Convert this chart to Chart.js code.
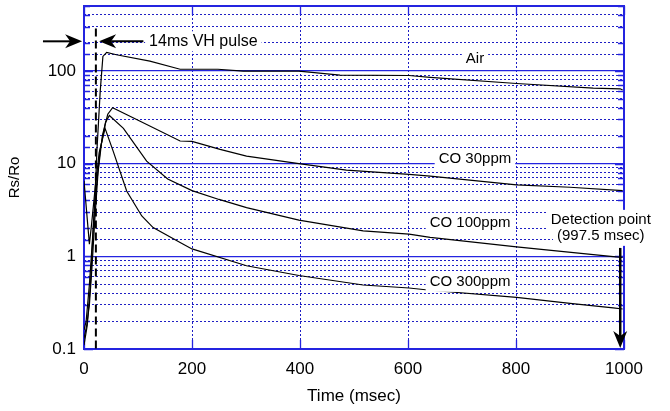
<!DOCTYPE html>
<html>
<head>
<meta charset="utf-8">
<script src="https://cdn.jsdelivr.net/npm/chart.js@4.4.1/dist/chart.umd.min.js"></script>
<style>
  html, body { margin: 0; padding: 0; background: #fff; }
</style>
</head>
<body>
<canvas id="chart" width="670" height="411"></canvas>
<script>
// Rs/Ro vs time after the heater pulse
const airTime  = [0, 6, 12, 17, 20, 24, 30, 35, 42, 60, 122, 178, 248, 295, 398, 474, 602, 641, 801, 943, 993, 997.5];
const airRatio = [0.11, 0.18, 0.5, 2, 4, 14, 60, 143, 158, 149, 127, 104, 104, 99, 99, 90, 89, 85, 73, 65, 64, 62];

const co30Time  = [0, 5, 10, 15, 20, 26, 34, 44, 53, 104, 178, 200, 252, 301, 398, 486, 602, 641, 801, 900, 997.5];
const co30Ratio = [0.13, 0.18, 0.3, 0.8, 2.5, 8, 20, 34, 40, 28.6, 17.5, 17.3, 14.2, 12, 10, 8.5, 7.65, 7.3, 5.9, 5.55, 5.1];

const co100Time  = [0, 4, 10, 16, 22, 30, 40, 47, 73, 116, 155, 200, 250, 301, 398, 517, 602, 641, 801, 980, 997.5];
const co100Ratio = [0.16, 0.2, 0.5, 1.6, 5, 14, 28, 33, 24, 10.6, 6.8, 5.1, 4.1, 3.35, 2.45, 1.88, 1.73, 1.6, 1.26, 0.99, 0.97];

const co300Time  = [0, 10, 14, 20, 28, 39, 54, 79, 107, 128, 178, 200, 301, 398, 517, 602, 641, 801, 900, 980, 997.5];
const co300Ratio = [6.5, 1.35, 2.2, 5, 13, 24, 13.6, 5.06, 2.72, 2.04, 1.41, 1.2, 0.79, 0.62, 0.49, 0.455, 0.43, 0.36, 0.31, 0.277, 0.27];

const seriesNames = ["Air", "CO 30ppm", "CO 100ppm", "CO 300ppm"];
const xTickStep = 200;
const yLabelDecades = [0.1, 1, 10, 100];

// annotation anchors in data units (time, ratio)
const curveLabels = [
  { text: "Air", t: 724, r: 136 },
  { text: "CO 30ppm", t: 724, r: 11.2 },
  { text: "CO 100ppm", t: 715, r: 2.29 },
  { text: "CO 300ppm", t: 715, r: 0.53 }
];
const pulseTime = 22;
const detectTime = 993;

const BLUE = "#2424e0";
const DOT_BLUE = "#1e1ec4";
const FONT = "'Liberation Sans', Arial, Helvetica, sans-serif";

function pairs(ts, vs) {
  return ts.map((t, i) => ({ x: t, y: vs[i] }));
}

function isDecade(v) {
  const l = Math.log10(v);
  return Math.abs(l - Math.round(l)) < 1e-6;
}

function arrow(ctx, x1, y1, x2, y2) {
  // line from (x1,y1) with a filled head at (x2,y2)
  const ang = Math.atan2(y2 - y1, x2 - x1);
  const len = 17, half = 7, notch = 12;
  ctx.beginPath();
  ctx.moveTo(x1, y1);
  ctx.lineTo(x2 - Math.cos(ang) * notch, y2 - Math.sin(ang) * notch);
  ctx.stroke();
  ctx.save();
  ctx.translate(x2, y2);
  ctx.rotate(ang);
  ctx.beginPath();
  ctx.moveTo(0, 0);
  ctx.lineTo(-len, -half);
  ctx.lineTo(-notch, 0);
  ctx.lineTo(-len, half);
  ctx.closePath();
  ctx.fill();
  ctx.restore();
}

function boxedText(ctx, text, x, y, font) {
  ctx.font = font;
  const w = ctx.measureText(text).width;
  ctx.fillStyle = "#fff";
  ctx.fillRect(x - w / 2 - 4, y - 10, w + 8, 20);
  ctx.fillStyle = "#000";
  ctx.textAlign = "center";
  ctx.textBaseline = "middle";
  ctx.fillText(text, x, y);
}

const gridDash = ctx => (ctx.tick && isDecade(ctx.tick.value) ? [] : [2, 2]);

const framePlugin = {
  id: "frame",
  beforeDatasetsDraw(chart) {
    const { ctx, chartArea: a, scales: { x, y } } = chart;
    ctx.save();
    ctx.strokeStyle = BLUE;
    ctx.lineWidth = 1.3;
    ctx.beginPath();
    y.ticks.forEach(tk => {
      const py = Math.round(y.getPixelForValue(tk.value)) + 0.5;
      const len = isDecade(tk.value) ? 9 : 6;
      ctx.moveTo(a.left, py); ctx.lineTo(a.left + len, py);
      ctx.moveTo(a.right, py); ctx.lineTo(a.right - len, py);
    });
    x.ticks.forEach(tk => {
      const px = Math.round(x.getPixelForValue(tk.value)) + 0.5;
      ctx.moveTo(px, a.top); ctx.lineTo(px, a.top + 9);
      ctx.moveTo(px, a.bottom); ctx.lineTo(px, a.bottom - 9);
    });
    ctx.stroke();
    ctx.lineWidth = 2;
    ctx.strokeRect(a.left, a.top, a.right - a.left, a.bottom - a.top);
    ctx.restore();
  },
  afterDatasetsDraw(chart) {
    const { ctx, scales: { x, y } } = chart;
    ctx.save();

    // dashed pulse marker
    const px = x.getPixelForValue(pulseTime);
    ctx.strokeStyle = "#000";
    ctx.lineWidth = 2;
    ctx.setLineDash([8, 4]);
    ctx.beginPath();
    ctx.moveTo(px, y.getPixelForValue(286));
    ctx.lineTo(px, y.getPixelForValue(0.1));
    ctx.stroke();
    ctx.setLineDash([]);

    // pulse width arrows + text
    const ay = y.getPixelForValue(208);
    boxedText(ctx, "14ms VH pulse", x.getPixelForValue(221), ay, "16px " + FONT);
    ctx.fillStyle = "#000";
    ctx.strokeStyle = "#000";
    ctx.lineWidth = 2;
    arrow(ctx, x.getPixelForValue(-76), ay, x.getPixelForValue(-3.5), ay);
    arrow(ctx, x.getPixelForValue(110), ay, x.getPixelForValue(28), ay);

    // curve labels
    curveLabels.forEach(l => {
      boxedText(ctx, l.text, x.getPixelForValue(l.t), y.getPixelForValue(l.r), "15px " + FONT);
    });

    // detection point
    const dx = x.getPixelForValue(957);
    boxedText(ctx, "Detection point", dx, y.getPixelForValue(2.47), "15px " + FONT);
    boxedText(ctx, "(997.5 msec)", dx, y.getPixelForValue(1.66), "15px " + FONT);
    ctx.fillStyle = "#000";
    ctx.strokeStyle = "#000";
    ctx.lineWidth = 2.5;
    const ex = x.getPixelForValue(detectTime);
    arrow(ctx, ex, y.getPixelForValue(1.23), ex, y.getPixelForValue(0.1) - 1);

    ctx.restore();
  }
};

const lineStyle = { borderColor: "#000", borderWidth: 1.2, pointRadius: 0, tension: 0, fill: false };

new Chart(document.getElementById("chart"), {
  type: "line",
  data: {
    datasets: [
      { label: seriesNames[0], data: pairs(airTime, airRatio), ...lineStyle },
      { label: seriesNames[1], data: pairs(co30Time, co30Ratio), ...lineStyle },
      { label: seriesNames[2], data: pairs(co100Time, co100Ratio), ...lineStyle },
      { label: seriesNames[3], data: pairs(co300Time, co300Ratio), ...lineStyle }
    ]
  },
  options: {
    responsive: false,
    animation: false,
    layout: { padding: { top: 6, right: 46, left: 0, bottom: 0 } },
    plugins: { legend: { display: false }, tooltip: { enabled: false } },
    scales: {
      x: {
        type: "linear",
        min: 0,
        max: 1000,
        afterFit(s) { s.height = 62; s.paddingLeft = 0; s.paddingRight = 0; },
        ticks: {
          stepSize: xTickStep, color: "#000", padding: 10, maxRotation: 0,
          font: { family: FONT, size: 17 },
          callback: v => String(v)
        },
        grid: { color: DOT_BLUE, lineWidth: 1, drawTicks: false },
        border: { display: false, dash: [2, 2] },
        title: { display: true, text: "Time (msec)", color: "#000", font: { family: FONT, size: 17 }, padding: { bottom: 4 } }
      },
      y: {
        type: "logarithmic",
        min: 0.1,
        max: 500,
        afterFit(s) { s.width = 84; s.paddingTop = 0; s.paddingBottom = 0; },
        ticks: {
          color: "#000",
          padding: 8,
          autoSkip: false,
          font: { family: FONT, size: 17 },
          callback: v => (yLabelDecades.some(d => Math.abs(d - v) < 1e-9) ? String(v) : "")
        },
        grid: {
          drawTicks: false,
          color: ctx => (ctx.tick && isDecade(ctx.tick.value) ? BLUE : DOT_BLUE),
          lineWidth: ctx => (ctx.tick && isDecade(ctx.tick.value) ? 1.3 : 1)
        },
        border: { display: false, dash: gridDash },
        title: { display: true, text: "Rs/Ro", color: "#000", font: { family: FONT, size: 15 }, padding: { top: 6 } }
      }
    }
  },
  plugins: [framePlugin]
});
</script>
</body>
</html>
